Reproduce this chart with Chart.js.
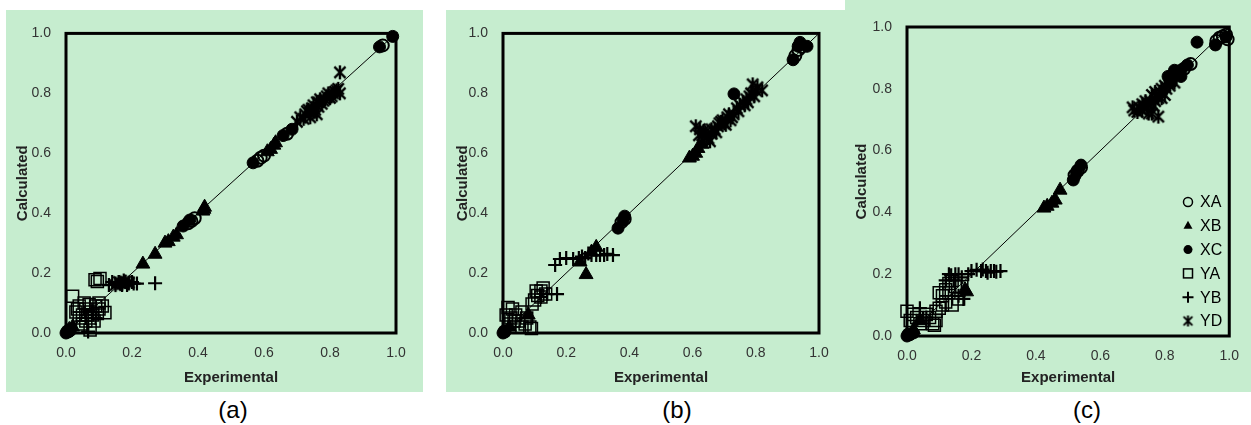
<!DOCTYPE html>
<html>
<head>
<meta charset="utf-8">
<script src="https://cdn.jsdelivr.net/npm/chart.js@4.4.0/dist/chart.umd.min.js"></script>
<style>
  body { margin: 0; background: #fff; width: 1251px; height: 425px; position: relative; overflow: hidden; font-family: "Liberation Sans", Arial, sans-serif; }
  .panel { position: absolute; background: #c6edcf; }
  .panel canvas { display: block; }
  .cap { position: absolute; top: 396px; width: 80px; font-size: 24px; line-height: 28px; text-align: center; color: #000; }
</style>
</head>
<body>
<div class="panel" style="left:6px;top:10px;width:417px;height:382px"><canvas id="chartA" width="417" height="382"></canvas></div>
<div class="panel" style="left:446px;top:10px;width:399px;height:382px"><canvas id="chartB" width="399" height="382"></canvas></div>
<div class="panel" style="left:845px;top:0px;width:406px;height:392px"><canvas id="chartC" width="406" height="392"></canvas></div>
<div class="cap" style="left:193px">(a)</div>
<div class="cap" style="left:637px">(b)</div>
<div class="cap" style="left:1047px">(c)</div>
<script>
// series names, axis ticks and the y = x reference line
const seriesNames = ['XA', 'XB', 'XC', 'YA', 'YB', 'YD'];
const tickValues = [0, 0.2, 0.4, 0.6, 0.8, 1.0];
const diag = [0, 1];

// panel (a) : [experimental, calculated]
const aXA = [[0.005, 0.005], [0.012, 0.01], [0.58, 0.575], [0.59, 0.585], [0.60, 0.592], [0.37, 0.366], [0.38, 0.374], [0.39, 0.383], [0.67, 0.665], [0.96, 0.96]];
const aXB = [[0.233, 0.23], [0.27, 0.263], [0.30, 0.30], [0.31, 0.305], [0.325, 0.32], [0.335, 0.328], [0.42, 0.42], [0.418, 0.413], [0.415, 0.407], [0.61, 0.605], [0.62, 0.613], [0.635, 0.635], [0.63, 0.627], [0.01, 0.012], [0.02, 0.02]];
const aXC = [[0.0, 0.0], [0.005, 0.004], [0.01, 0.006], [0.355, 0.357], [0.375, 0.377], [0.567, 0.568], [0.658, 0.659], [0.685, 0.68], [0.95, 0.955], [0.99, 0.99]];
const aYA = [[0.02, 0.123], [0.088, 0.178], [0.103, 0.182], [0.095, 0.172], [0.03, 0.07], [0.04, 0.09], [0.05, 0.06], [0.06, 0.08], [0.07, 0.095], [0.08, 0.06], [0.09, 0.09], [0.10, 0.08], [0.118, 0.068], [0.06, 0.04], [0.073, 0.01], [0.05, 0.03], [0.085, 0.04], [0.04, 0.05], [0.10, 0.10], [0.065, 0.06], [0.035, 0.08], [0.055, 0.10], [0.075, 0.07], [0.11, 0.09], [0.095, 0.065], [0.045, 0.02]];
const aYB = [[0.13, 0.16], [0.15, 0.165], [0.16, 0.17], [0.17, 0.16], [0.18, 0.17], [0.19, 0.165], [0.20, 0.17], [0.215, 0.165], [0.27, 0.166], [0.067, 0.005], [0.06, 0.05], [0.08, 0.07], [0.09, 0.05], [0.14, 0.17], [0.165, 0.165], [0.175, 0.175], [0.185, 0.16], [0.205, 0.165]];
const aYD = [[0.15, 0.16], [0.17, 0.165], [0.18, 0.172], [0.16, 0.17], [0.19, 0.168], [0.70, 0.705], [0.71, 0.72], [0.72, 0.715], [0.73, 0.74], [0.74, 0.735], [0.745, 0.75], [0.75, 0.76], [0.755, 0.745], [0.76, 0.77], [0.765, 0.755], [0.77, 0.78], [0.78, 0.775], [0.79, 0.79], [0.80, 0.785], [0.81, 0.80], [0.82, 0.81], [0.83, 0.80], [0.83, 0.87], [0.76, 0.73], [0.74, 0.72], [0.725, 0.73], [0.735, 0.745], [0.75, 0.74], [0.765, 0.77], [0.775, 0.765], [0.785, 0.78], [0.795, 0.80], [0.805, 0.79], [0.815, 0.805], [0.825, 0.815]];

// panel (b)
const bXA = [[0.005, 0.005], [0.935, 0.945], [0.945, 0.955], [0.925, 0.925], [0.375, 0.37], [0.385, 0.38]];
const bXB = [[0.244, 0.237], [0.263, 0.195], [0.295, 0.286], [0.28, 0.27], [0.59, 0.584], [0.60, 0.59], [0.61, 0.60], [0.617, 0.616], [0.63, 0.63], [0.08, 0.06], [0.02, 0.02]];
const bXC = [[0.0, 0.0], [0.005, 0.005], [0.364, 0.35], [0.38, 0.377], [0.385, 0.39], [0.731, 0.798], [0.918, 0.912], [0.934, 0.957], [0.962, 0.957], [0.94, 0.97]];
const bYA = [[0.016, 0.085], [0.03, 0.08], [0.04, 0.06], [0.05, 0.04], [0.06, 0.07], [0.085, 0.02], [0.09, 0.015], [0.07, 0.03], [0.092, 0.097], [0.11, 0.125], [0.127, 0.15], [0.135, 0.13], [0.10, 0.11], [0.12, 0.14], [0.02, 0.03], [0.01, 0.06], [0.025, 0.05], [0.035, 0.04], [0.06, 0.02], [0.075, 0.05], [0.105, 0.14], [0.12, 0.12]];
const bYB = [[0.165, 0.227], [0.18, 0.247], [0.20, 0.25], [0.222, 0.247], [0.24, 0.25], [0.25, 0.255], [0.26, 0.25], [0.27, 0.265], [0.28, 0.26], [0.295, 0.26], [0.307, 0.26], [0.32, 0.26], [0.33, 0.264], [0.348, 0.26], [0.171, 0.13], [0.14, 0.13], [0.12, 0.12]];
const bYD = [[0.61, 0.69], [0.623, 0.68], [0.63, 0.66], [0.64, 0.67], [0.65, 0.65], [0.66, 0.665], [0.67, 0.68], [0.68, 0.69], [0.70, 0.70], [0.71, 0.72], [0.72, 0.71], [0.73, 0.73], [0.74, 0.75], [0.75, 0.76], [0.76, 0.77], [0.77, 0.78], [0.78, 0.79], [0.79, 0.83], [0.80, 0.81], [0.82, 0.81], [0.69, 0.705], [0.655, 0.64], [0.62, 0.66], [0.635, 0.675], [0.645, 0.655], [0.66, 0.68], [0.675, 0.67], [0.685, 0.70], [0.695, 0.71], [0.705, 0.695], [0.715, 0.73], [0.725, 0.72], [0.745, 0.74], [0.765, 0.76], [0.775, 0.77], [0.785, 0.80], [0.795, 0.79], [0.805, 0.82]];

// panel (c)
const cXA = [[0.005, 0.005], [0.96, 0.955], [0.97, 0.965], [0.98, 0.97], [0.99, 0.975], [0.995, 0.96], [0.84, 0.855], [0.86, 0.865], [0.88, 0.88], [0.53, 0.535], [0.54, 0.545], [0.52, 0.52]];
const cXB = [[0.425, 0.414], [0.435, 0.42], [0.45, 0.43], [0.46, 0.44], [0.475, 0.472], [0.185, 0.143], [0.18, 0.15], [0.02, 0.02], [0.04, 0.05]];
const cXC = [[0.0, 0.0], [0.01, 0.005], [0.02, 0.01], [0.90, 0.951], [0.957, 0.942], [0.99, 0.968], [0.81, 0.84], [0.83, 0.86], [0.85, 0.86], [0.87, 0.877], [0.85, 0.84], [0.82, 0.82], [0.516, 0.505], [0.526, 0.53], [0.54, 0.553]];
const cYA = [[0.0, 0.08], [0.02, 0.07], [0.03, 0.06], [0.05, 0.05], [0.06, 0.07], [0.08, 0.04], [0.09, 0.05], [0.10, 0.09], [0.11, 0.13], [0.12, 0.15], [0.13, 0.17], [0.14, 0.18], [0.15, 0.16], [0.16, 0.12], [0.14, 0.10], [0.12, 0.11], [0.10, 0.14], [0.085, 0.035], [0.01, 0.05], [0.04, 0.04], [0.07, 0.06], [0.09, 0.08], [0.11, 0.10], [0.13, 0.14], [0.17, 0.16]];
const cYB = [[0.12, 0.18], [0.13, 0.20], [0.137, 0.197], [0.145, 0.18], [0.15, 0.20], [0.16, 0.20], [0.17, 0.19], [0.19, 0.20], [0.20, 0.21], [0.216, 0.214], [0.23, 0.21], [0.235, 0.215], [0.245, 0.21], [0.25, 0.205], [0.26, 0.21], [0.27, 0.21], [0.277, 0.208], [0.29, 0.21], [0.175, 0.12], [0.04, 0.09], [0.06, 0.06], [0.16, 0.13]];
const cYD = [[0.70, 0.74], [0.705, 0.73], [0.715, 0.725], [0.72, 0.74], [0.725, 0.735], [0.73, 0.73], [0.735, 0.745], [0.745, 0.74], [0.75, 0.75], [0.75, 0.72], [0.755, 0.76], [0.76, 0.72], [0.765, 0.745], [0.77, 0.76], [0.775, 0.78], [0.78, 0.71], [0.78, 0.77], [0.785, 0.79], [0.79, 0.80], [0.79, 0.77], [0.80, 0.78], [0.805, 0.80], [0.74, 0.76], [0.76, 0.78], [0.77, 0.79], [0.80, 0.81], [0.815, 0.81], [0.83, 0.82], [0.73, 0.75]];

// excel style star: an X with a vertical bar
function starImage(r, lw) {
    const c = document.createElement('canvas');
    const s = Math.ceil(2 * r + 2);
    c.width = s; c.height = s;
    const g = c.getContext('2d');
    const m = s / 2, d = r * 0.8;
    g.strokeStyle = '#000';
    g.lineWidth = lw;
    g.beginPath();
    g.moveTo(m, m - r); g.lineTo(m, m + r);
    g.moveTo(m - d, m - d); g.lineTo(m + d, m + d);
    g.moveTo(m + d, m - d); g.lineTo(m - d, m + d);
    g.stroke();
    return c;
}

const markerStyles = {
    XA: { pointStyle: 'circle', pointRadius: 6, pointBackgroundColor: 'rgba(0,0,0,0)', pointBorderColor: '#000', pointBorderWidth: 2 },
    XB: { pointStyle: 'triangle', pointRadius: 8, pointBackgroundColor: '#000', pointBorderColor: '#000', pointBorderWidth: 1 },
    XC: { pointStyle: 'circle', pointRadius: 6, pointBackgroundColor: '#000', pointBorderColor: '#000', pointBorderWidth: 1 },
    YA: { pointStyle: 'rect', pointRadius: 8.5, pointBackgroundColor: 'rgba(0,0,0,0)', pointBorderColor: '#000', pointBorderWidth: 1.5 },
    YB: { pointStyle: 'cross', pointRadius: 7, pointBackgroundColor: '#000', pointBorderColor: '#000', pointBorderWidth: 2.2 },
    YD: { pointStyle: starImage(7, 2.4), pointRadius: 7, pointBorderColor: '#000' }
};

function toPoints(arr) {
    return arr.map(p => ({ x: p[0], y: p[1] }));
}

const boxPlugin = {
    id: 'box',
    beforeDatasetsDraw(chart) {
        const a = chart.chartArea;
        const ctx = chart.ctx;
        ctx.save();
        ctx.strokeStyle = '#000';
        ctx.lineWidth = 3;
        ctx.strokeRect(a.left, a.top, a.right - a.left, a.bottom - a.top);
        ctx.restore();
    }
};

// hand drawn legend for panel (c), inside the plot area
const legendPlugin = {
    id: 'boxLegend',
    afterDraw(chart, args, opts) {
        if (!opts.show) return;
        const ctx = chart.ctx;
        ctx.save();
        ctx.font = '16px "Liberation Sans", Arial, sans-serif';
        ctx.textBaseline = 'middle';
        ctx.fillStyle = '#000';
        ctx.strokeStyle = '#000';
        seriesNames.forEach((name, i) => {
            const x = opts.x, y = opts.y + i * 23.8;
            ctx.lineWidth = 1.5;
            ctx.beginPath();
            if (name === 'XA') {
                ctx.arc(x, y, 4.5, 0, Math.PI * 2); ctx.stroke();
            } else if (name === 'XB') {
                ctx.moveTo(x, y - 5); ctx.lineTo(x + 4.5, y + 3); ctx.lineTo(x - 4.5, y + 3); ctx.closePath(); ctx.fill();
            } else if (name === 'XC') {
                ctx.arc(x, y, 4.5, 0, Math.PI * 2); ctx.fill();
            } else if (name === 'YA') {
                ctx.strokeRect(x - 4.5, y - 4.5, 9, 9);
            } else if (name === 'YB') {
                ctx.lineWidth = 2;
                ctx.moveTo(x - 5.5, y); ctx.lineTo(x + 5.5, y);
                ctx.moveTo(x, y - 5.5); ctx.lineTo(x, y + 5.5); ctx.stroke();
            } else {
                ctx.drawImage(starImage(5.5, 2), x - 6.5, y - 6.5);
            }
            ctx.fillText(name, opts.x + 12, y + 1);
        });
        ctx.restore();
    }
};

function makeChart(id, series, geom, showLegend) {
    const datasets = seriesNames.map((name, i) => Object.assign({
        label: name,
        data: toPoints(series[i]),
        showLine: false,
        clip: false,
        order: 1
    }, markerStyles[name]));
    datasets.push({
        type: 'line',
        label: 'y = x',
        data: diag.map(v => ({ x: v, y: v })),
        borderColor: '#000',
        borderWidth: 1,
        pointRadius: 0,
        order: 10
    });

    const tickFont = { family: '"Liberation Sans", Arial, sans-serif', size: 14 };
    const titleFont = { family: '"Liberation Sans", Arial, sans-serif', size: 15, weight: 'bold' };

    return new Chart(document.getElementById(id), {
        type: 'scatter',
        data: { datasets: datasets },
        options: {
            responsive: false,
            animation: false,
            events: [],
            layout: { padding: { top: geom.padT, right: geom.padR, left: 0, bottom: 0 } },
            plugins: {
                legend: { display: false },
                tooltip: { enabled: false },
                boxLegend: { show: showLegend, x: geom.legX, y: geom.legY }
            },
            scales: {
                x: {
                    type: 'linear', min: 0, max: 1,
                    grid: { display: false, drawTicks: false },
                    border: { display: false },
                    afterBuildTicks: s => { s.ticks = tickValues.map(v => ({ value: v })); },
                    afterFit: s => { s.height = geom.xH; },
                    ticks: { font: tickFont, color: '#333', padding: 12, callback: v => v.toFixed(1) },
                    title: { display: true, text: 'Experimental', font: titleFont, color: '#222', padding: { top: 0, bottom: 5 } }
                },
                y: {
                    type: 'linear', min: 0, max: 1,
                    grid: { display: false, drawTicks: false },
                    border: { display: false },
                    afterBuildTicks: s => { s.ticks = tickValues.map(v => ({ value: v })); },
                    afterFit: s => { s.width = geom.yW; },
                    ticks: { font: tickFont, color: '#333', padding: 15, callback: v => v.toFixed(1) },
                    title: { display: true, text: 'Calculated', font: titleFont, color: '#222', padding: { top: 8, bottom: 0 } }
                }
            }
        },
        plugins: [boxPlugin, legendPlugin]
    });
}

makeChart('chartA', [aXA, aXB, aXC, aYA, aYB, aYD], { padT: 15, padR: 27, yW: 60, xH: 59 }, false);
makeChart('chartB', [bXA, bXB, bXC, bYA, bYB, bYD], { padT: 15, padR: 26, yW: 57, xH: 59 }, false);
makeChart('chartC', [cXA, cXB, cXC, cYA, cYB, cYD], { padT: 27, padR: 15, yW: 62, xH: 56, legX: 343, legY: 202 }, true);
</script>
</body>
</html>
